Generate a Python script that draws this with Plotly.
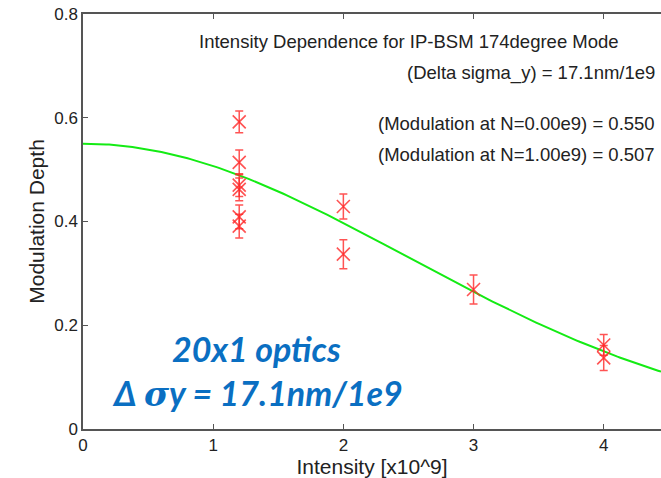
import numpy as np
import plotly.graph_objects as go

# Measured modulation depth vs. bunch intensity
intensity = [1.2, 1.2, 1.2, 1.2, 1.2, 1.2, 2.0, 2.0, 3.0, 4.0, 4.0]
modulation = [0.592, 0.514, 0.470, 0.462, 0.409, 0.391, 0.429, 0.337, 0.269, 0.162, 0.137]
mod_err = [0.021, 0.024, 0.022, 0.022, 0.023, 0.023, 0.024, 0.028, 0.028, 0.020, 0.024]

# Fit parameters (modulation at N=0 and N=1e9)
m_at_0 = 0.550
m_at_1 = 0.507

x_ticks = [0, 1, 2, 3, 4]
y_ticks = [0, 0.2, 0.4, 0.6, 0.8]
x_range = [0, 4.44]
y_range = [0, 0.8]

# Gaussian fit curve: M(N) = M0 * exp(-a N^2)
a = -np.log(m_at_1 / m_at_0)
n_fit = np.linspace(0, x_range[1], 200)
m_fit = m_at_0 * np.exp(-a * n_fit ** 2)

W, H = 661, 478
M_L, M_R, M_T, M_B = 83, 0, 14, 49

fig = go.Figure()

fig.add_trace(go.Scatter(
    x=n_fit, y=m_fit, mode="lines",
    line=dict(color="rgb(20,235,20)", width=2),
    showlegend=False, hoverinfo="skip",
))

fig.add_trace(go.Scatter(
    x=intensity, y=modulation, mode="markers",
    marker=dict(symbol="x-thin", size=13,
                line=dict(color="rgba(255,40,40,0.8)", width=1.6)),
    error_y=dict(type="data", array=mod_err, visible=True,
                 color="rgba(255,40,40,0.8)", thickness=1.5, width=4),
    showlegend=False,
))

sans = "Liberation Sans, Arial, sans-serif"
tick_font = dict(family=sans, size=17, color="#222")
title_font = dict(family=sans, size=21, color="#222")

fig.update_xaxes(
    range=x_range, tickvals=x_ticks, ticktext=[str(v) for v in x_ticks],
    showline=True, linecolor="#555", linewidth=1.5, mirror="ticks",
    ticks="inside", ticklen=5, tickcolor="#555", tickwidth=1,
    showgrid=False, zeroline=False,
    tickfont=tick_font,
    title=dict(text="Intensity [x10^9]", font=title_font, standoff=5),
)
fig.update_yaxes(
    range=y_range, tickvals=y_ticks, ticktext=["0", "0.2", "0.4", "0.6", "0.8"],
    showline=True, linecolor="#555", linewidth=1.5,
    ticks="inside", ticklen=5, tickcolor="#555", tickwidth=1,
    showgrid=False, zeroline=False,
    tickfont=tick_font,
    title=dict(text="Modulation Depth", font=title_font, standoff=4),
)


def px_to_paper(px, py):
    """Convert figure pixel position to plot-area paper coordinates."""
    pw = W - M_L - M_R
    ph = H - M_T - M_B
    return (px - M_L) / pw, (H - M_B - py) / ph


txt_font = dict(family=sans, size=18.5, color="#222")
annotations = [
    dict(x=409, y=42, text="Intensity Dependence for IP-BSM 174degree Mode", xanchor="center"),
    dict(x=657, y=73, text="(Delta sigma_y) = 17.1nm/1e9", xanchor="right"),
    dict(x=657, y=124, text="(Modulation at N=0.00e9) = 0.550", xanchor="right"),
    dict(x=657, y=154, text="(Modulation at N=1.00e9) = 0.507", xanchor="right"),
]
for ann in annotations:
    ax, ay = px_to_paper(ann["x"], ann["y"])
    fig.add_annotation(
        x=ax, y=ay, xref="paper", yref="paper",
        text=ann["text"], xanchor=ann["xanchor"], yanchor="middle",
        showarrow=False, font=txt_font,
    )

blue_font = dict(family="Lato, Open Sans, sans-serif", size=34, color="#0A6FC2")
bx, by = px_to_paper(256, 348)
fig.add_annotation(x=bx, y=by, xref="paper", yref="paper",
                   text="<b><i>20x1 optics</i></b>", showarrow=False,
                   xanchor="center", yanchor="middle", font=blue_font)
bx, by = px_to_paper(257, 393)
fig.add_annotation(x=bx, y=by, xref="paper", yref="paper",
                   text="<b><i>Δ <span style='font-family:DejaVu Serif'>σ</span>y = 17.1nm/1e9</i></b>",
                   showarrow=False, xanchor="center", yanchor="middle", font=blue_font)

fig.update_layout(
    width=W, height=H,
    margin=dict(l=M_L, r=M_R, t=M_T, b=M_B),
    paper_bgcolor="white", plot_bgcolor="white",
)

fig.write_html("out.html")
